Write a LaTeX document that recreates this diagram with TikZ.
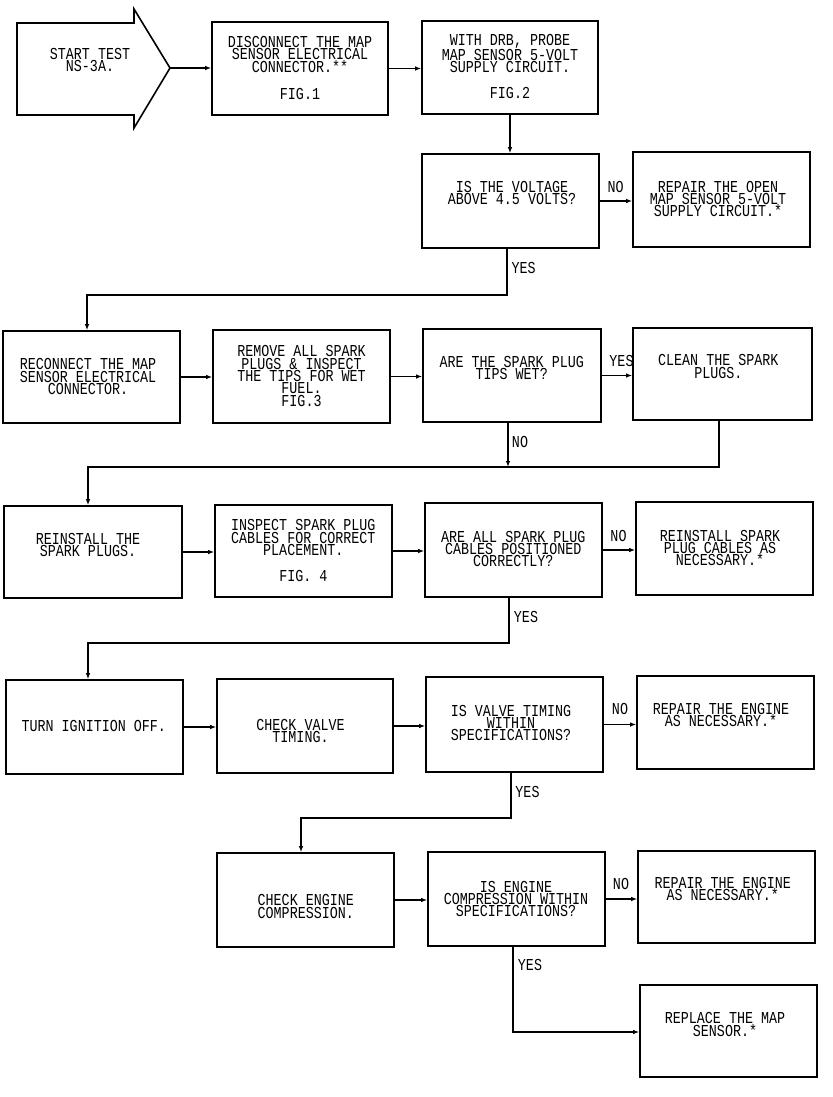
\documentclass[tikz,border=0pt]{standalone}
\usepackage{fontspec}
\newfontfamily\plotfont[FakeStretch=0.8]{Liberation Mono}
\usetikzlibrary{arrows.meta}
\tikzset{
  box/.style={draw, line width=1.6bp, minimum width=177bp, minimum height=93bp, inner sep=0pt},
  txt/.style={align=center, inner sep=0pt, font=\plotfont\fontsize{16.7bp}{12.4bp}\selectfont},
  lbl/.style={inner sep=0pt, font=\plotfont\fontsize{16.7bp}{12.4bp}\selectfont},
  conn/.style={line width=1.3bp},
  arr/.style={conn, -{Latex[length=6bp,width=4.5bp]}}
}
\begin{document}
\begin{tikzpicture}[x=1bp,y=-1bp]
\useasboundingbox (0,0) rectangle (833,1097);
% start arrow
\draw[line width=1.6bp] (17,23) -- (134,23) -- (134,9) -- (170,68) -- (134,128) -- (134,115) -- (17,115) -- cycle;
\coordinate (starttip) at (170,68);
\node[txt] (start) at (90,60) {START TEST\\NS-3A.};
% boxes
\node[box, minimum width=176bp] (b1) at (300,68.5) {};
\node[txt] (t1) at (300,68) {DISCONNECT THE MAP\\SENSOR ELECTRICAL\\CONNECTOR.**\\[15bp]FIG.1};
\node[box, minimum width=176bp] (b2) at (510,67.5) {};
\node[txt] (t2) at (510,66.5) {WITH DRB, PROBE\\MAP SENSOR 5-VOLT\\SUPPLY CIRCUIT.\\[14bp]FIG.2};
\node[box, minimum height=94bp] (b3) at (510.5,201) {};
\node[txt] (t3) at (512,193) {IS THE VOLTAGE\\ABOVE 4.5 VOLTS?};
\node[box, minimum height=95bp] (b4) at (721.5,199.5) {};
\node[txt] (t4) at (718,199) {REPAIR THE OPEN\\MAP SENSOR 5-VOLT\\SUPPLY CIRCUIT.*};
\node[box, minimum height=92bp] (b5) at (91.5,377) {};
\node[txt] (t5) at (88,376.5) {RECONNECT THE MAP\\SENSOR ELECTRICAL\\CONNECTOR.};
\node[box] (b6) at (301.5,376.5) {};
\node[txt] (t6) at (301.5,376) {REMOVE ALL SPARK\\PLUGS \& INSPECT\\THE TIPS FOR WET\\FUEL.\\FIG.3};
\node[box, minimum width=178bp] (b7) at (512,375.5) {};
\node[txt] (t7) at (511.7,368) {ARE THE SPARK PLUG\\TIPS WET?};
\node[box, minimum width=179bp, minimum height=92bp] (b8) at (722.5,374) {};
\node[txt] (t8) at (718.3,366.5) {CLEAN THE SPARK\\PLUGS.};
\node[box, minimum width=178bp, minimum height=92bp] (b9) at (93,552) {};
\node[txt] (t9) at (88,545) {REINSTALL THE\\SPARK PLUGS.};
\node[box, minimum height=92bp] (b10) at (303.5,551) {};
\node[txt] (t10) at (303.3,550.5) {INSPECT SPARK PLUG\\CABLES FOR CORRECT\\PLACEMENT.\\[13bp]FIG. 4};
\node[box, minimum height=94bp] (b11) at (513.5,550) {};
\node[txt] (t11) at (513.3,549) {ARE ALL SPARK PLUG\\CABLES POSITIONED\\CORRECTLY?};
\node[box] (b12) at (724.5,548.5) {};
\node[txt] (t12) at (720,548) {REINSTALL SPARK\\PLUG CABLES AS\\NECESSARY.*};
\node[box, minimum height=94bp] (b13) at (94.5,727) {};
\node[txt] (t13) at (93.8,725.7) {TURN IGNITION OFF.};
\node[box, minimum width=176bp, minimum height=94bp] (b14) at (305,726) {};
\node[txt] (t14) at (300.5,731) {CHECK VALVE\\TIMING.};
\node[box, minimum height=95bp] (b15) at (514.5,724.5) {};
\node[txt] (t15) at (511,723) {IS VALVE TIMING\\WITHIN\\SPECIFICATIONS?};
\node[box] (b16) at (725.5,722.5) {};
\node[txt] (t16) at (721,715) {REPAIR THE ENGINE\\AS NECESSARY.*};
\node[box, minimum height=94bp] (b17) at (305.5,900) {};
\node[txt] (t17) at (305.8,906.5) {CHECK ENGINE\\COMPRESSION.};
\node[box, minimum height=94bp] (b18) at (516.5,899) {};
\node[txt] (t18) at (516,899) {IS ENGINE\\COMPRESSION WITHIN\\SPECIFICATIONS?};
\node[box, minimum height=92bp] (b19) at (726.5,897) {};
\node[txt] (t19) at (722.7,889) {REPAIR THE ENGINE\\AS NECESSARY.*};
\node[box, minimum height=92bp] (b20) at (728.5,1031) {};
\node[txt] (t20) at (725,1024.5) {REPLACE THE MAP\\SENSOR.*};
% labels
\node[lbl] (no1) at (615.6,186.7) {NO};
\node[lbl] (yes1) at (523.6,268) {YES};
\node[lbl] (yes2) at (621.5,360.5) {YES};
\node[lbl] (no2) at (520,442) {NO};
\node[lbl] (no3) at (618.5,536) {NO};
\node[lbl] (yes3) at (526,616.5) {YES};
\node[lbl] (no4) at (620,709) {NO};
\node[lbl] (yes4) at (527.5,791.5) {YES};
\node[lbl] (no5) at (621,884) {NO};
\node[lbl] (yes5) at (530,965) {YES};
% connector coordinates
\coordinate (c1) at (507,295);
\coordinate (c2) at (87,295);
\coordinate (c3) at (508,467);
\coordinate (c4) at (719,467);
\coordinate (c5) at (88,467);
\coordinate (c6) at (509,643);
\coordinate (c7) at (88,643);
\coordinate (c8) at (511,818);
\coordinate (c9) at (301,818);
\coordinate (c10) at (513,1032);
% connectors
\draw[arr] (starttip) -- (starttip -| b1.west);
\draw[arr] (b1.east) -- (b1.east -| b2.west);
\draw[arr] (b2.south) -- (b2.south |- b3.north);
\draw[arr] (b3.east) -- (b3.east -| b4.west);
\draw[arr] (b3.south -| c1) -- (c1) -- (c2) -- (c2 |- b5.north);
\draw[arr] (b5.east) -- (b5.east -| b6.west);
\draw[arr] (b6.east) -- (b6.east -| b7.west);
\draw[arr] (b7.east) -- (b7.east -| b8.west);
\draw[arr] (b7.south -| c3) -- (c3);
\draw[arr] (b8.south -| c4) -- (c4) -- (c5) -- (c5 |- b9.north);
\draw[arr] (b9.east) -- (b9.east -| b10.west);
\draw[arr] (b10.east) -- (b10.east -| b11.west);
\draw[arr] (b11.east) -- (b11.east -| b12.west);
\draw[arr] (b11.south -| c6) -- (c6) -- (c7) -- (c7 |- b13.north);
\draw[arr] (b13.east) -- (b13.east -| b14.west);
\draw[arr] (b14.east) -- (b14.east -| b15.west);
\draw[arr] (b15.east) -- (b15.east -| b16.west);
\draw[arr] (b15.south -| c8) -- (c8) -- (c9) -- (c9 |- b17.north);
\draw[arr] (b17.east) -- (b17.east -| b18.west);
\draw[arr] (b18.east) -- (b18.east -| b19.west);
\draw[arr] (b18.south -| c10) -- (c10) -- (c10 -| b20.west);
\end{tikzpicture}
\end{document}
